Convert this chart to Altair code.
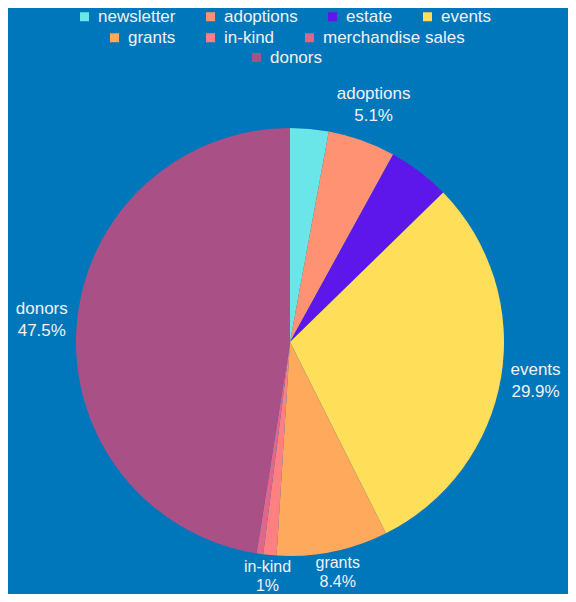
import altair as alt
import pandas as pd

categories = ["newsletter", "adoptions", "estate", "events", "grants",
              "in-kind", "merchandise sales", "donors"]
values = [2.9, 5.1, 4.7, 29.9, 8.4, 1.0, 0.5, 47.5]
colors = ["#6be6e8", "#ff9273", "#5d17eb", "#ffde59", "#ffa95c",
          "#ff8080", "#e0668a", "#a95087"]
legend_row1 = ["newsletter", "adoptions", "estate", "events"]
legend_row2 = ["grants", "in-kind", "merchandise sales"]
legend_row3 = ["donors"]
labels_side = ["adoptions", "events", "donors"]
labels_bottom = ["grants", "in-kind"]

df = pd.DataFrame({"category": categories, "value": values,
                   "idx": list(range(len(categories)))})
cmap = dict(zip(categories, colors))

BG = "#0076bb"
TXT = "#f2f2f2"
FONT = "Liberation Sans"
CX, CY = 282, 334

base = alt.Chart(df).transform_window(
    cum="sum(value)", sort=[alt.SortField("idx")], frame=[None, 0]
).transform_calculate(
    start="datum.cum - datum.value",
    mid="datum.cum - datum.value / 2",
    pct="format(datum.value, '.1~f') + '%'",
)

theta_scale = alt.Scale(domain=[0, 100])


def arc_layer(row, lx, ly):
    return base.transform_filter(
        alt.FieldOneOfPredicate(field="category", oneOf=row)
    ).mark_arc(outerRadius=214, strokeWidth=0).encode(
        theta=alt.Theta("start:Q", stack=None, scale=theta_scale),
        theta2="cum:Q",
        x=alt.value(CX),
        y=alt.value(CY),
        color=alt.Color(
            "category:N",
            scale=alt.Scale(domain=row, range=[cmap[c] for c in row]),
            legend=alt.Legend(
                orient="none", legendX=lx, legendY=ly, direction="horizontal",
                title=None, symbolType="square", symbolSize=81,
                symbolStrokeWidth=0, labelFontSize=17, labelColor=TXT,
                labelFont=FONT, columnPadding=26, labelOffset=5, padding=0,
            ),
        ),
    )


def text_layer(cats, r, dy, field, size=17):
    return base.transform_filter(
        alt.FieldOneOfPredicate(field="category", oneOf=cats)
    ).mark_text(
        fontSize=size, font=FONT, color=TXT, dy=dy, align="center",
        baseline="middle",
    ).encode(
        theta=alt.Theta("mid:Q", stack=None, scale=theta_scale),
        radius=alt.value(r),
        x=alt.value(CX),
        y=alt.value(CY),
        text=f"{field}:N",
    )


l1 = arc_layer(legend_row1, 68, 0)
l2 = arc_layer(legend_row2, 98, 21)
l3 = arc_layer(legend_row3, 240, 41)

layers = [
    l1, l2, l3,
    text_layer(labels_side, 249, -13, "category"),
    text_layer(labels_side, 249, 9, "pct"),
    text_layer(labels_bottom, 239, -13, "category", 16),
    text_layer(labels_bottom, 239, 6, "pct", 16),
]

chart = alt.layer(*layers).resolve_scale(
    color="independent"
).properties(
    width=560, height=586, autosize=alt.AutoSizeParams(type="none"), padding=0,
    background=BG,
).configure_view(stroke=None)

chart.save("out.html", embed_options={"renderer": "svg", "actions": False})
